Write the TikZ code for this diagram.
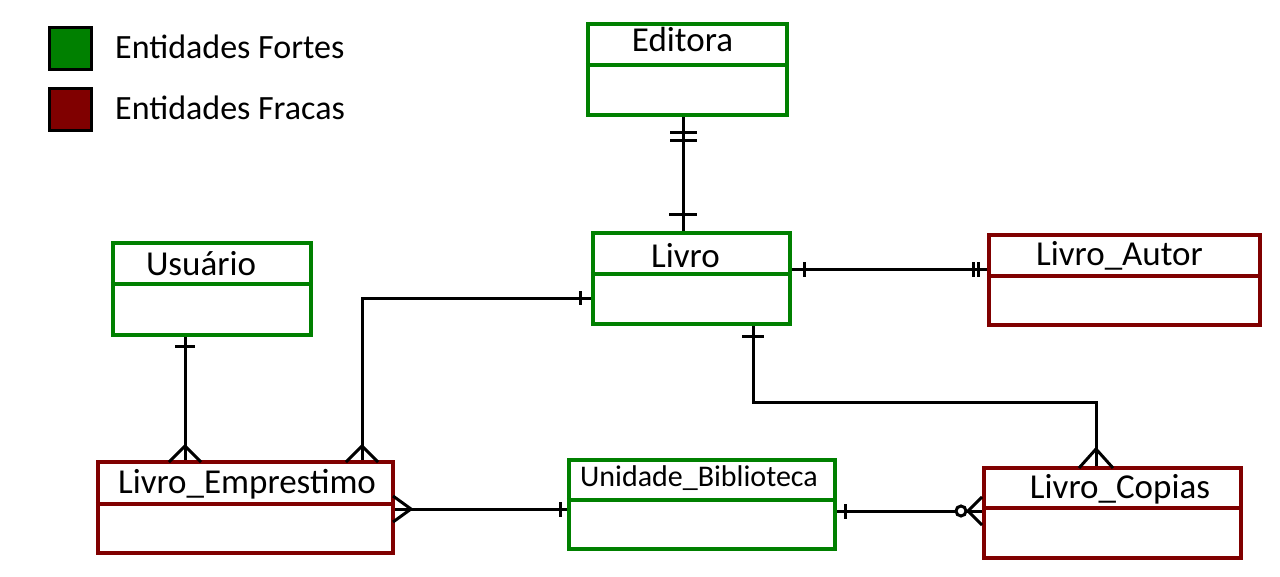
\documentclass[tikz,border=0pt]{standalone}
\usepackage{fontspec}
\setmainfont{Carlito}
\definecolor{verdeforte}{RGB}{0,128,0}
\definecolor{vermfraca}{RGB}{128,0,0}

\begin{document}
\begin{tikzpicture}[x=1pt, y=-1pt,
  forte/.style={draw=verdeforte, line width=4.5pt, inner sep=0pt},
  fraca/.style={draw=vermfraca, line width=4.5pt, inner sep=0pt},
  liga/.style={line width=3pt, black},
  titulo/.style={anchor=base, inner sep=0pt, font=\fontsize{35}{42}\selectfont},
  legenda/.style={draw=black, line width=3pt, minimum size=42pt, inner sep=0pt}]

\useasboundingbox (0,0) rectangle (1280,576) ;

\node[legenda, fill=verdeforte] (legforte) at (70,48) {} ;
\node[titulo, anchor=base west, font=\fontsize{34}{40}\selectfont] (txtforte) at (115,58) {Entidades Fortes} ;
\node[legenda, fill=vermfraca] (legfraca) at (70,109) {} ;
\node[titulo, anchor=base west, font=\fontsize{34}{40}\selectfont] (txtfraca) at (115,119) {Entidades Fracas} ;

\node[forte, minimum width=199pt, minimum height=91pt] (editora) at (687.5,69.5) {} ;
\draw[forte] (editora.west |- 0,65) -- (editora.east |- 0,65) ;
\node[titulo] (teditora) at (682.5,51) {Editora} ;

\node[forte, minimum width=197pt, minimum height=91pt] (livro) at (691.5,278.5) {} ;
\draw[forte] (livro.west |- 0,274) -- (livro.east |- 0,274) ;
\node[titulo] (tlivro) at (685.5,267) {Livro} ;

\node[fraca, minimum width=271pt, minimum height=90pt] (autor) at (1124.5,280) {} ;
\draw[fraca] (autor.west |- 0,276) -- (autor.east |- 0,276) ;
\node[titulo] (tautor) at (1119.5,265) {Livro\_Autor} ;

\node[forte, minimum width=198pt, minimum height=92pt] (usuario) at (212,289) {} ;
\draw[forte] (usuario.west |- 0,284) -- (usuario.east |- 0,284) ;
\node[titulo] (tusuario) at (201,275) {Usuário} ;

\node[fraca, minimum width=295pt, minimum height=91pt] (emprestimo) at (245.5,507.5) {} ;
\draw[fraca] (emprestimo.west |- 0,504) -- (emprestimo.east |- 0,504) ;
\node[titulo] (temprestimo) at (247,493) {Livro\_Emprestimo} ;

\node[forte, minimum width=266pt, minimum height=89pt] (unidade) at (702,504.5) {} ;
\draw[forte] (unidade.west |- 0,500) -- (unidade.east |- 0,500) ;
\node[titulo, font=\fontsize{30}{36}\selectfont] (tunidade) at (699,486) {Unidade\_Biblioteca} ;

\node[fraca, minimum width=257pt, minimum height=90pt] (copias) at (1112.5,513) {} ;
\draw[fraca] (copias.west |- 0,508) -- (copias.east |- 0,508) ;
\node[titulo] (tcopias) at (1120,498) {Livro\_Copias} ;

\draw[liga] (editora.south -| 683,0) -- (livro.north -| 683,0) ;
\draw[liga] (670,132) -- (697,132) ;
\draw[liga] (670,140) -- (697,140) ;
\draw[liga] (669,214) -- (697,214) ;

\draw[liga] (livro.east |- 0,269) -- (autor.west |- 0,269) ;
\draw[liga] (804,262) -- (804,277) ;
\draw[liga] (973,262) -- (973,277) ;
\draw[liga] (978,262) -- (978,277) ;

\draw[liga] (livro.west |- 0,298) -| (emprestimo.north -| 362,0) ;
\draw[liga] (580,291) -- (580,305) ;
\draw[liga] (346,462) -- (362,446) -- (378,462) ;

\draw[liga] (usuario.south -| 185,0) -- (emprestimo.north -| 185,0) ;
\draw[liga] (175,346) -- (195,346) ;
\draw[liga] (169,462) -- (185,446) -- (201,462) ;

\draw[liga] (emprestimo.east |- 0,509) -- (unidade.west |- 0,509) ;
\draw[liga] (393,496) -- (411,509) -- (393,522) ;
\draw[liga] (560,502) -- (560,517) ;

\draw[liga] (unidade.east |- 0,511) -- (copias.west |- 0,511) ;
\draw[liga] (845,504) -- (845,519) ;
\draw[liga, fill=white] (961,511) circle[radius=5pt] ;
\draw[liga] (982,497) -- (968,511) -- (982,525) ;

\draw[liga] (livro.south -| 753,0) |- (1096,402) -- (copias.north -| 1096,0) ;
\draw[liga] (742,336) -- (764,336) ;
\draw[liga] (1079,468) -- (1096,449) -- (1113,468) ;
\end{tikzpicture}
\end{document}
